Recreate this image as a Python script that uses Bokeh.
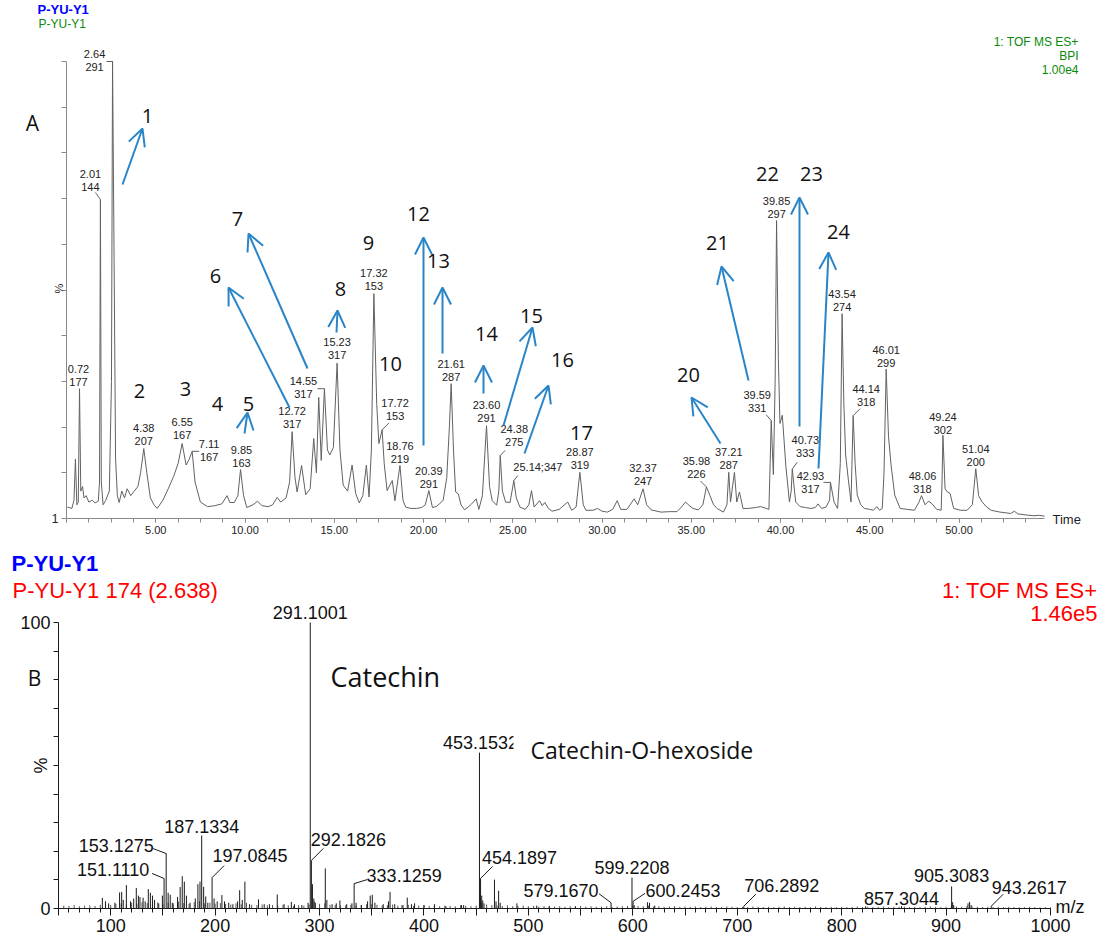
import math
from bokeh.plotting import figure
from bokeh.models import (Range1d, FixedTicker, Label, LabelSet, ColumnDataSource,
                          Arrow, OpenHead, NumeralTickFormatter)
from bokeh.layouts import column
from bokeh.embed import file_html
from bokeh.resources import INLINE
from bokeh.core.properties import value

ARIAL = "Liberation Sans"
CALIB = "Open Sans"
ARROW_C = "#2a85c8"

# ------------------------------------------------------------------ data (A)
trace_t = [0.05, 0.30, 0.42, 0.50, 0.58, 0.66, 0.73, 0.80, 0.90, 0.98, 1.10, 1.25, 1.45, 1.60,
           1.78, 1.85, 1.90, 1.95, 2.05, 2.20, 2.40, 2.52, 2.58, 2.66, 2.75, 2.85, 2.95, 3.10,
           3.25, 3.40, 3.60, 3.80, 4.00, 4.15, 4.33, 4.50, 4.70, 4.90, 5.08, 5.40, 5.70, 6.00,
           6.25, 6.48, 6.70, 6.88, 7.04, 7.20, 7.50, 7.90, 8.30, 8.70, 9.00, 9.15, 9.40, 9.60,
           9.75, 9.92, 10.10, 10.45, 10.70, 10.95, 11.30, 11.55, 11.80, 12.00, 12.30, 12.50,
           12.64, 12.80, 12.92, 13.17, 13.40, 13.65, 13.85, 14.00, 14.13, 14.27, 14.45, 14.62,
           14.75, 14.95, 15.16, 15.32, 15.50, 15.75, 16.00, 16.20, 16.40, 16.60, 16.80, 16.95,
           17.08, 17.22, 17.38, 17.50, 17.68, 17.80, 17.96, 18.25, 18.40, 18.68, 18.85, 19.00,
           19.30, 19.60, 19.90, 20.10, 20.30, 20.50, 20.70, 20.90, 21.10, 21.30, 21.45, 21.55,
           21.68, 21.80, 21.95, 22.10, 22.30, 22.50, 22.70, 22.95, 23.10, 23.30, 23.53, 23.70,
           23.85, 24.10, 24.22, 24.30, 24.42, 24.60, 24.85, 25.06, 25.20, 25.40, 25.70, 25.90,
           26.05, 26.20, 26.50, 26.65, 26.80, 27.00, 27.20, 27.60, 28.08, 28.30, 28.55, 28.76,
           28.95, 29.10, 29.50, 29.75, 30.00, 30.30, 30.60, 30.85, 31.05, 31.40, 31.80, 32.00,
           32.30, 32.50, 32.75, 33.30, 33.80, 34.20, 34.45, 34.68, 34.90, 35.10, 35.40, 35.65,
           35.85, 36.05, 36.25, 36.45, 36.80, 37.00, 37.10, 37.20, 37.42, 37.55, 37.70, 37.90,
           38.20, 38.60, 38.90, 39.20, 39.35, 39.42, 39.48, 39.60, 39.70, 39.78, 39.88, 39.97,
           40.10, 40.30, 40.50, 40.60, 40.66, 40.85, 41.10, 41.40, 41.70, 41.95, 42.10, 42.30,
           42.55, 42.75, 42.80, 43.00, 43.20, 43.35, 43.45, 43.55, 43.65, 43.80, 43.95, 44.07,
           44.18, 44.30, 44.50, 44.70, 45.00, 45.20, 45.40, 45.55, 45.70, 45.80, 45.92, 46.05,
           46.20, 46.40, 46.70, 47.10, 47.50, 47.75, 47.90, 48.10, 48.30, 48.50, 48.75, 49.00,
           49.05, 49.10, 49.22, 49.35, 49.50, 49.70, 50.10, 50.45, 50.75, 50.94, 51.10, 51.30,
           51.55, 51.80, 52.30, 52.90, 53.10, 53.30, 53.70, 54.20, 54.50, 54.80]
trace_v = [2.5, 2.2, 4.0, 13.0, 3.0, 3.5, 28.4, 6.0, 7.0, 4.5, 5.0, 3.6, 4.0, 3.4,
           3.8, 8.0, 69.8, 8.0, 3.0, 4.0, 6.0, 30.0, 100.0, 60.0, 13.0, 5.0, 3.5, 6.0,
           4.5, 6.5, 5.0, 6.0, 7.0, 10.0, 15.3, 10.0, 4.5, 3.0, 2.2, 4.0, 6.5, 9.2,
           12.0, 16.4, 11.7, 13.0, 14.7, 8.0, 3.6, 2.6, 2.8, 3.2, 5.0, 3.5, 3.5, 5.0,
           10.7, 5.0, 2.4, 3.0, 3.8, 2.8, 2.6, 3.0, 4.6, 3.6, 4.5, 8.0,
           19.0, 9.0, 5.8, 11.6, 5.2, 6.5, 17.5, 10.0, 26.5, 12.7, 28.4, 15.0,
           13.9, 15.5, 34.0, 15.0, 7.3, 6.0, 11.7, 5.5, 3.4, 5.0, 11.7, 4.7,
           15.0, 49.2, 25.0, 16.4, 19.4, 12.0, 6.1, 8.3, 3.9, 11.6, 4.0, 2.5,
           2.2, 2.2, 2.4, 3.0, 6.1, 2.4, 2.6, 3.2, 4.0, 8.8, 20.0, 29.5,
           15.0, 5.8, 5.4, 3.0, 1.9, 2.5, 3.2, 4.3, 2.0, 5.0, 20.3, 7.0,
           3.9, 2.9, 6.0, 13.8, 6.0, 3.6, 3.5, 8.3, 4.5, 2.5, 2.0, 3.0,
           6.1, 2.5, 3.9, 2.8, 3.5, 2.2, 1.6, 2.0, 3.6, 1.8, 2.5, 10.1,
           3.0, 1.8, 1.8, 2.2, 1.6, 1.4, 2.0, 3.9, 2.0, 2.0, 4.3, 3.0,
           6.5, 3.0, 1.9, 1.4, 1.5, 1.5, 2.5, 3.6, 2.8, 2.2, 1.9, 3.0,
           6.9, 5.0, 3.0, 2.2, 1.4, 3.0, 10.1, 3.6, 10.1, 3.6, 5.8, 2.2,
           2.2, 2.4, 2.6, 2.2, 2.0, 12.0, 21.4, 9.6, 30.0, 65.2, 35.0, 20.8,
           22.6, 11.5, 3.6, 6.0, 10.8, 3.6, 2.6, 2.4, 2.2, 2.4, 3.2, 2.2,
           2.5, 4.0, 7.9, 3.6, 2.2, 12.0, 44.8, 25.0, 13.9, 8.5, 3.6, 22.5,
           12.0, 5.1, 3.0, 2.2, 2.0, 1.8, 2.6, 1.8, 2.2, 10.0, 32.7, 18.0,
           11.5, 5.1, 2.2, 2.0, 1.8, 3.5, 5.0, 3.0, 3.8, 3.2, 2.0, 1.8,
           8.0, 18.2, 6.5, 5.8, 5.5, 2.2, 1.8, 1.8, 3.0, 10.9, 5.0, 3.6,
           2.5, 1.8, 1.4, 1.1, 1.6, 1.0, 0.8, 0.6, 0.7, 0.5]

peak_rt = ["0.72", "2.01", "2.64", "4.38", "6.55", "7.11", "9.85", "12.72", "14.55", "15.23",
           "17.32", "17.72", "18.76", "20.39", "21.61", "23.60", "24.38", "25.14", "28.87",
           "32.37", "35.98", "37.21", "39.59", "39.85", "40.73", "42.93", "43.54", "44.14",
           "46.01", "48.06", "49.24", "51.04"]
peak_mz = ["177", "144", "291", "207", "167", "167", "163", "317", "317", "317",
           "153", "153", "219", "291", "287", "291", "275", "347", "319",
           "247", "226", "287", "331", "297", "333", "317", "274", "318",
           "299", "318", "302", "200"]

compound_no = ["1", "2", "3", "4", "5", "6", "7", "8", "9", "10", "12", "13", "14", "15",
               "16", "17", "20", "21", "22", "23", "24"]

# ------------------------------------------------------------------ data (B)
stick_mz = [92, 95, 98, 104, 108.5, 110.5, 112, 115, 119, 122, 124.5, 126.5, 128, 131, 133,
            136, 138, 140, 142, 146, 149.5, 151.111, 153.1275, 155, 157, 159, 164, 166.5,
            168.5, 170.5, 172.5, 176, 181, 183.5, 185.5, 187.1334, 189, 191, 193, 197.0845,
            199, 202, 206.5, 209, 213, 217, 221.5, 223.5, 226, 228.5, 233, 241.5, 247, 252,
            259.5, 266, 273, 276, 283, 289, 291.1001, 292.1826, 293.2, 294.5, 296, 305.5,
            307, 312, 316, 319.5, 326, 331, 333.1259, 335, 340, 346, 348.5, 350.5, 353, 361,
            366, 367.5, 372, 379, 384, 388, 391, 400, 410, 421, 436, 438, 453.1532, 454.1897,
            455.3, 456.3, 457.5, 467.5, 469, 471.5, 473, 489, 508, 520, 545, 579.167,
            599.2208, 600.2453, 601.3, 614, 616, 621, 706.2892, 823, 857.3044, 905.3083,
            906.3, 907.3, 921, 922.5, 924, 943.2617]
stick_int = [3.7, 2.5, 1.8, 2.0, 5.6, 5.8, 3.0, 8.2, 2.5, 3.5, 7.2, 4.5, 4.0, 3.8, 2.5,
             6.8, 5.5, 4.5, 3.0, 1.8, 4.5, 10.5, 19.2, 5.5, 4.8, 2.0, 4.0, 7.5,
             11.3, 9.4, 4.5, 2.0, 3.5, 8.5, 9.4, 25.5, 7.6, 4.2, 2.0, 10.8,
             3.5, 2.5, 4.7, 2.5, 2.0, 1.5, 2.5, 6.4, 3.0, 9.4, 1.5, 3.2, 1.5, 1.5,
             4.9, 1.5, 2.3, 1.5, 1.2, 2.0, 100.0, 16.8, 8.5, 3.5, 2.0, 14.0,
             3.0, 1.5, 1.8, 2.8, 1.5, 1.8, 8.7, 2.0, 1.2, 2.5, 4.5, 4.8, 2.0, 1.5,
             2.5, 5.8, 1.5, 1.2, 3.8, 1.5, 1.8, 1.2, 1.5, 0.8, 1.2, 1.2, 54.5, 10.5,
             4.5, 2.8, 1.8, 10.1, 2.5, 6.2, 2.0, 1.8, 1.0, 0.8, 0.8, 2.0,
             10.8, 2.5, 1.2, 2.2, 2.0, 1.0, 0.8, 0.8, 0.8, 7.7,
             2.2, 1.2, 1.8, 2.3, 1.2, 0.8]

noise_mz = list(range(50, 1001, 5))
noise_int = [0.8, 1.0, 0.9, 1.2, 0.8, 1.0, 1.1, 0.9, 1.3, 1.5, 1.2,
             1.6, 1.8, 1.4, 2.0, 1.7, 2.2, 1.9, 1.6, 2.1, 1.5,
             2.0, 1.8, 2.4, 1.9, 1.6, 2.2, 2.6, 1.8, 2.0, 1.7,
             1.9, 1.6, 1.4, 1.8, 1.5, 2.0, 1.3, 1.2, 1.4, 1.1,
             1.2, 1.0, 1.3, 1.1, 0.9, 1.2, 1.0, 1.4, 2.5, 1.6,
             1.8, 1.3, 1.2, 1.0, 1.1, 1.3, 1.0, 1.2, 1.5, 1.6,
             1.3, 1.1, 1.2, 1.4, 1.0, 1.2, 1.3, 0.9, 1.0, 1.1,
             0.9, 1.0, 0.8, 1.0, 0.9, 0.8, 1.1, 0.9, 0.8, 1.0,
             2.0, 1.4, 1.2, 1.0, 0.9, 1.1, 0.8, 0.9, 1.0, 0.8,
             0.9, 0.7, 0.8, 0.9, 0.7, 0.8, 0.6, 0.8, 0.7, 0.9,
             0.7, 0.8, 0.6, 0.7, 0.8, 0.6, 0.7, 0.8, 0.9, 1.0,
             0.9, 0.8, 1.0, 0.7, 0.8, 0.6, 0.7, 0.8, 0.6, 0.7,
             0.6, 0.7, 0.5, 0.6, 0.7, 0.6, 0.5, 0.7, 0.6, 0.5,
             0.6, 0.5, 0.7, 0.6, 0.5, 0.6, 0.5, 0.6, 0.7, 0.5,
             0.6, 0.5, 0.6, 0.5, 0.7, 0.6, 0.5, 0.6, 0.5, 0.6,
             0.5, 0.6, 0.7, 0.5, 0.6, 0.5, 0.6, 0.7, 0.5, 0.6,
             0.6, 0.7, 0.5, 0.6, 0.5, 0.6, 0.7, 0.6, 0.5, 0.6,
             0.8, 0.7, 0.6, 0.9, 0.7, 0.6, 0.5, 0.6, 0.5, 0.6,
             0.5, 0.6, 0.5, 0.4, 0.5, 0.6, 0.5, 0.4, 0.5, 0.4]

ms_labels = ["151.1110", "153.1275", "187.1334", "197.0845", "291.1001", "292.1826",
             "333.1259", "453.1532", "454.1897", "579.1670", "599.2208", "600.2453",
             "706.2892", "857.3044", "905.3083", "943.2617"]

# ------------------------------------------------------------------ layout (page pixels)
TOP_H, BOT_H, W = 540, 398, 1102
T_X0, T_PPM = 66, 17.85          # t = 0 min at x = 66
T_Y0, T_PPP = 518, 4.57          # 0 % at y = 518
def tx(px): return (px - T_X0) / T_PPM
def ty(py): return (T_Y0 - py) / T_PPP
def tdx(d): return d / T_PPM
def tdy(d): return d / T_PPP

B_X0, B_PPU = 58, 1.0442         # m/z 50 at x = 58
B_Y0, B_PPP = 908, 2.86          # 0 % at page y = 908
def bx(px): return 50 + (px - B_X0) / B_PPU
def by(py): return (B_Y0 - py) / B_PPP
def bdx(d): return d / B_PPU
def bdy(d): return d / B_PPP

peak_lab_off = [(-1, 13.7), (-10, 19.5), (-18, 1.5), (0, 13.6), (0, 15), (17, 1.3), (1, 13.6),
                (0, 14), (-21, 1), (0, 14.6), (0, 14), (13, 20), (0, 13), (0, 13), (0, 12.7),
                (0, 14.7), (14, 20), (24, 14), (0, 14), (0, 14), (-10, 19.5), (0, 14),
                (-14, 19.7), (0, 13.5), (13, 23), (-20, -0.6), (0, 12.8), (13, 19.7), (0, 13),
                (1, 13), (0, 12.3), (0, 12.7)]
single_line = {"25.14"}
peak_leader = {"2.01": (-5, 7), "2.64": (-6, 0), "7.11": (7, 0), "14.55": (-7, 0),
               "17.72": (7, 7), "24.38": (5, 5), "25.14": (4, 5), "35.98": (-6, 6),
               "39.59": (-5, 6), "40.73": (5, 7), "42.93": (-7, 0), "44.14": (7, 7)}

compound_pos = [(147, 115), (139, 390), (185, 388), (217, 403), (248, 403), (215, 275),
                (237, 218), (340, 288), (368, 242), (390, 363), (418, 213), (438, 260),
                (486, 333), (531, 315), (562, 359), (581, 432), (688, 374), (717, 242),
                (767, 173), (811, 173), (838, 231)]
arrows_px = [((122, 184), (142, 128)), ((244, 433), (247, 412)), ((289, 407), (228, 287)),
             ((307, 368), (248, 233)), ((336, 332), (337, 310)), ((423, 445), (423, 237)),
             ((442, 353), (442, 287)), ((483, 393), (483, 365)), ((503, 425), (532, 327)),
             ((524, 453), (548, 385)), ((720, 443), (691, 397)), ((748, 380), (721, 266)),
             ((799, 426), (799, 197)), ((818, 468), (828, 252))]

ms_lab_off = [(-51, 9), (-50, 8), (0, 9), (38, 22), (0, 10), (37, 21), (50, 8), (1, 10),
              (39, 21), (-50, 12), (0, 10), (50, 11), (38, 21), (0, 8), (0, 11), (38, 19)]
ms_leader = {"151.1110": (-12, 5), "153.1275": (-13, 5), "197.0845": (12, 12),
             "292.1826": (12, 12), "333.1259": (13, 4), "454.1897": (12, 12),
             "579.1670": (-12, 9), "600.2453": (12, 8), "706.2892": (12, 12),
             "943.2617": (12, 12)}


def add_label(p, x, y, text, size, color="#222222", font=ARIAL, align="center",
              baseline="middle", style="normal", angle=0.0, **kw):
    p.add_layout(Label(x=x, y=y, text=text, text_font=font, text_font_size=f"{size}px",
                       text_color=color, text_align=align, text_baseline=baseline,
                       text_font_style=style, angle=angle, **kw))


def base_fig(h, xr, yr):
    p = figure(width=W, height=h, x_range=xr, y_range=yr, output_backend="svg",
               toolbar_location=None, min_border=0, min_border_left=0, min_border_right=0,
               min_border_top=0, min_border_bottom=0)
    p.xgrid.visible = False
    p.ygrid.visible = False
    p.outline_line_color = None
    p.background_fill_color = "white"
    p.border_fill_color = "white"
    return p

# ================================================================== figure A
p1 = base_fig(TOP_H, Range1d(tx(0), tx(W)), Range1d(ty(TOP_H), ty(0)))

xa = p1.xaxis[0]
xa.fixed_location = 0
xa.ticker = FixedTicker(ticks=[5 * k for k in range(11)],
                        minor_ticks=[1.25 * k for k in range(44)])
xa.formatter = NumeralTickFormatter(format="0.00")
xa.major_label_overrides = {0: ""}
xa.bounds = (0, 54.8)
ya = p1.yaxis[0]
ya.fixed_location = 0
ya.ticker = FixedTicker(ticks=list(range(0, 101, 10)), minor_ticks=[])
ya.major_label_overrides = {k: ("1" if k == 0 else "") for k in range(0, 101, 10)}
ya.bounds = (0, 100)
for ax in (xa, ya):
    ax.axis_line_color = "#8a8a8a"
    ax.major_tick_line_color = "#8a8a8a"
    ax.minor_tick_line_color = "#8a8a8a"
    ax.major_tick_in = 0
    ax.minor_tick_in = 0
    ax.major_label_text_font = ARIAL
    ax.major_label_text_font_size = "11px"
    ax.major_label_text_color = "#222222"
xa.major_tick_out = 4
xa.minor_tick_out = 4
xa.major_label_standoff = 3
ya.major_tick_out = 5
ya.minor_tick_out = 0
ya.major_label_standoff = 3
ya.major_label_text_font_size = "12px"

p1.line(trace_t, trace_v, line_color="#626262", line_width=1)

l1x, l1y, l1t, l2x, l2y, l2t = [], [], [], [], [], []
lead_x0, lead_y0, lead_x1, lead_y1 = [], [], [], []
for rt, mz, (dx, dy) in zip(peak_rt, peak_mz, peak_lab_off):
    r = float(rt)
    cand = [i for i, t in enumerate(trace_t) if r - 0.2 <= t <= r + 0.1]
    i = max(cand, key=lambda k: trace_v[k])
    at, av = trace_t[i], trace_v[i]
    cx, cy = at + tdx(dx), av + tdy(dy)
    if rt in single_line:
        l1x.append(cx); l1y.append(cy); l1t.append(f"{rt};{mz}")
    else:
        l1x.append(cx); l1y.append(cy + tdy(6.5)); l1t.append(rt)
        l2x.append(cx); l2y.append(cy - tdy(6.5)); l2t.append(mz)
    if rt in peak_leader:
        ex, ey = peak_leader[rt]
        lead_x0.append(at); lead_y0.append(av)
        lead_x1.append(at + tdx(ex)); lead_y1.append(av + tdy(ey))

p1.segment(lead_x0, lead_y0, lead_x1, lead_y1, line_color="#626262", line_width=1)
for xs, ys, ts in ((l1x, l1y, l1t), (l2x, l2y, l2t)):
    src = ColumnDataSource(dict(x=xs, y=ys, text=ts))
    p1.add_layout(LabelSet(x="x", y="y", text="text", source=src,
                           text_font=value(ARIAL), text_font_size="11px",
                           text_align="center", text_baseline="middle",
                           text_color="#222222"))

for (x0, y0), (x1, y1) in arrows_px:
    p1.add_layout(Arrow(end=OpenHead(size=17, line_color=ARROW_C, line_width=2),
                        x_start=tx(x0), y_start=ty(y0), x_end=tx(x1), y_end=ty(y1),
                        line_color=ARROW_C, line_width=2))
for num, (px, py) in zip(compound_no, compound_pos):
    add_label(p1, tx(px), ty(py), num, 20, color="#111111", font=CALIB)

add_label(p1, tx(37), ty(9), "P-YU-Y1", 13, color="#0000ff", align="left", style="bold")
add_label(p1, tx(38), ty(23), "P-YU-Y1", 12, color="#0a8a0a", align="left")
add_label(p1, tx(1078), ty(41), "1: TOF MS ES+", 12, color="#0a8a0a", align="right")
add_label(p1, tx(1078), ty(55), "BPI", 12, color="#0a8a0a", align="right")
add_label(p1, tx(1078), ty(69), "1.00e4", 12, color="#0a8a0a", align="right")
add_label(p1, tx(32), ty(122), "A", 21, color="#111111", font=CALIB)
add_label(p1, tx(58), ty(288), "%", 11, color="#222222", angle=math.pi / 2)
add_label(p1, tx(1052), ty(519), "Time", 13, color="#222222", align="left")

# ================================================================== figure B
p2 = base_fig(BOT_H, Range1d(bx(0), bx(W)), Range1d(by(TOP_H + BOT_H), by(TOP_H)))

xb = p2.xaxis[0]
xb.fixed_location = 0
xb.ticker = FixedTicker(ticks=list(range(50, 1001, 50)), minor_ticks=list(range(50, 1001, 10)))
xb.major_label_overrides = {k: (str(k) if k % 100 == 0 else "") for k in range(50, 1001, 50)}
xb.bounds = (50, 1000)
yb = p2.yaxis[0]
yb.fixed_location = 50
yb.ticker = FixedTicker(ticks=list(range(0, 101, 10)), minor_ticks=[])
yb.major_label_overrides = {k: (str(k) if k in (0, 100) else "") for k in range(0, 101, 10)}
yb.bounds = (0, 100)
for ax in (xb, yb):
    ax.axis_line_color = "#1a1a1a"
    ax.major_tick_line_color = "#1a1a1a"
    ax.minor_tick_line_color = "#1a1a1a"
    ax.major_tick_in = 0
    ax.minor_tick_in = 0
    ax.major_label_text_font = ARIAL
    ax.major_label_text_font_size = "18px"
    ax.major_label_text_color = "#111111"
xb.major_tick_out = 7
xb.minor_tick_out = 4
xb.major_label_standoff = 3
yb.major_tick_out = 5
yb.minor_tick_out = 0
yb.major_label_standoff = 3

p2.segment(noise_mz, [0] * len(noise_mz), noise_mz, noise_int, line_color="#555555", line_width=1)
p2.segment(stick_mz, [0] * len(stick_mz), stick_mz, stick_int, line_color="#1a1a1a", line_width=1)

mx, my, mt = [], [], []
bl_x0, bl_y0, bl_x1, bl_y1 = [], [], [], []
for lab, (dx, dy) in zip(ms_labels, ms_lab_off):
    m = float(lab)
    i = min(range(len(stick_mz)), key=lambda k: abs(stick_mz[k] - m))
    sx, sy = stick_mz[i], stick_int[i]
    mx.append(sx + bdx(dx)); my.append(sy + bdy(dy)); mt.append(lab)
    if lab in ms_leader:
        ex, ey = ms_leader[lab]
        bl_x0.append(sx); bl_y0.append(sy)
        bl_x1.append(sx + bdx(ex)); bl_y1.append(sy + bdy(ey))
p2.segment(bl_x0, bl_y0, bl_x1, bl_y1, line_color="#1a1a1a", line_width=1)
p2.add_layout(LabelSet(x="x", y="y", text="text", source=ColumnDataSource(dict(x=mx, y=my, text=mt)),
                       text_font=value(ARIAL), text_font_size="18px", text_align="center",
                       text_baseline="middle", text_color="#111111"))

add_label(p2, bx(330), by(676), "Catechin", 27, color="#111111", font=CALIB, align="left")
add_label(p2, bx(513), by(749), "Catechin-O-hexoside", 23, color="#111111", font=CALIB,
          align="left", background_fill_color="white", background_fill_alpha=1.0, padding=17)
add_label(p2, bx(11), by(563), "P-YU-Y1", 22, color="#0000ff", align="left", style="bold")
add_label(p2, bx(12), by(590), "P-YU-Y1 174 (2.638)", 22, color="#ff0000", align="left")
add_label(p2, bx(1097), by(590), "1: TOF MS ES+", 22, color="#ff0000", align="right")
add_label(p2, bx(1097), by(613), "1.46e5", 22, color="#ff0000", align="right")
add_label(p2, bx(34), by(677), "B", 21, color="#111111", font=CALIB)
add_label(p2, bx(40), by(765), "%", 18, color="#111111", angle=math.pi / 2)
add_label(p2, bx(1055), by(906), "m/z", 18, color="#111111", align="left")

layout = column(p1, p2, spacing=0)
open("out.html", "w").write(file_html(layout, INLINE))
